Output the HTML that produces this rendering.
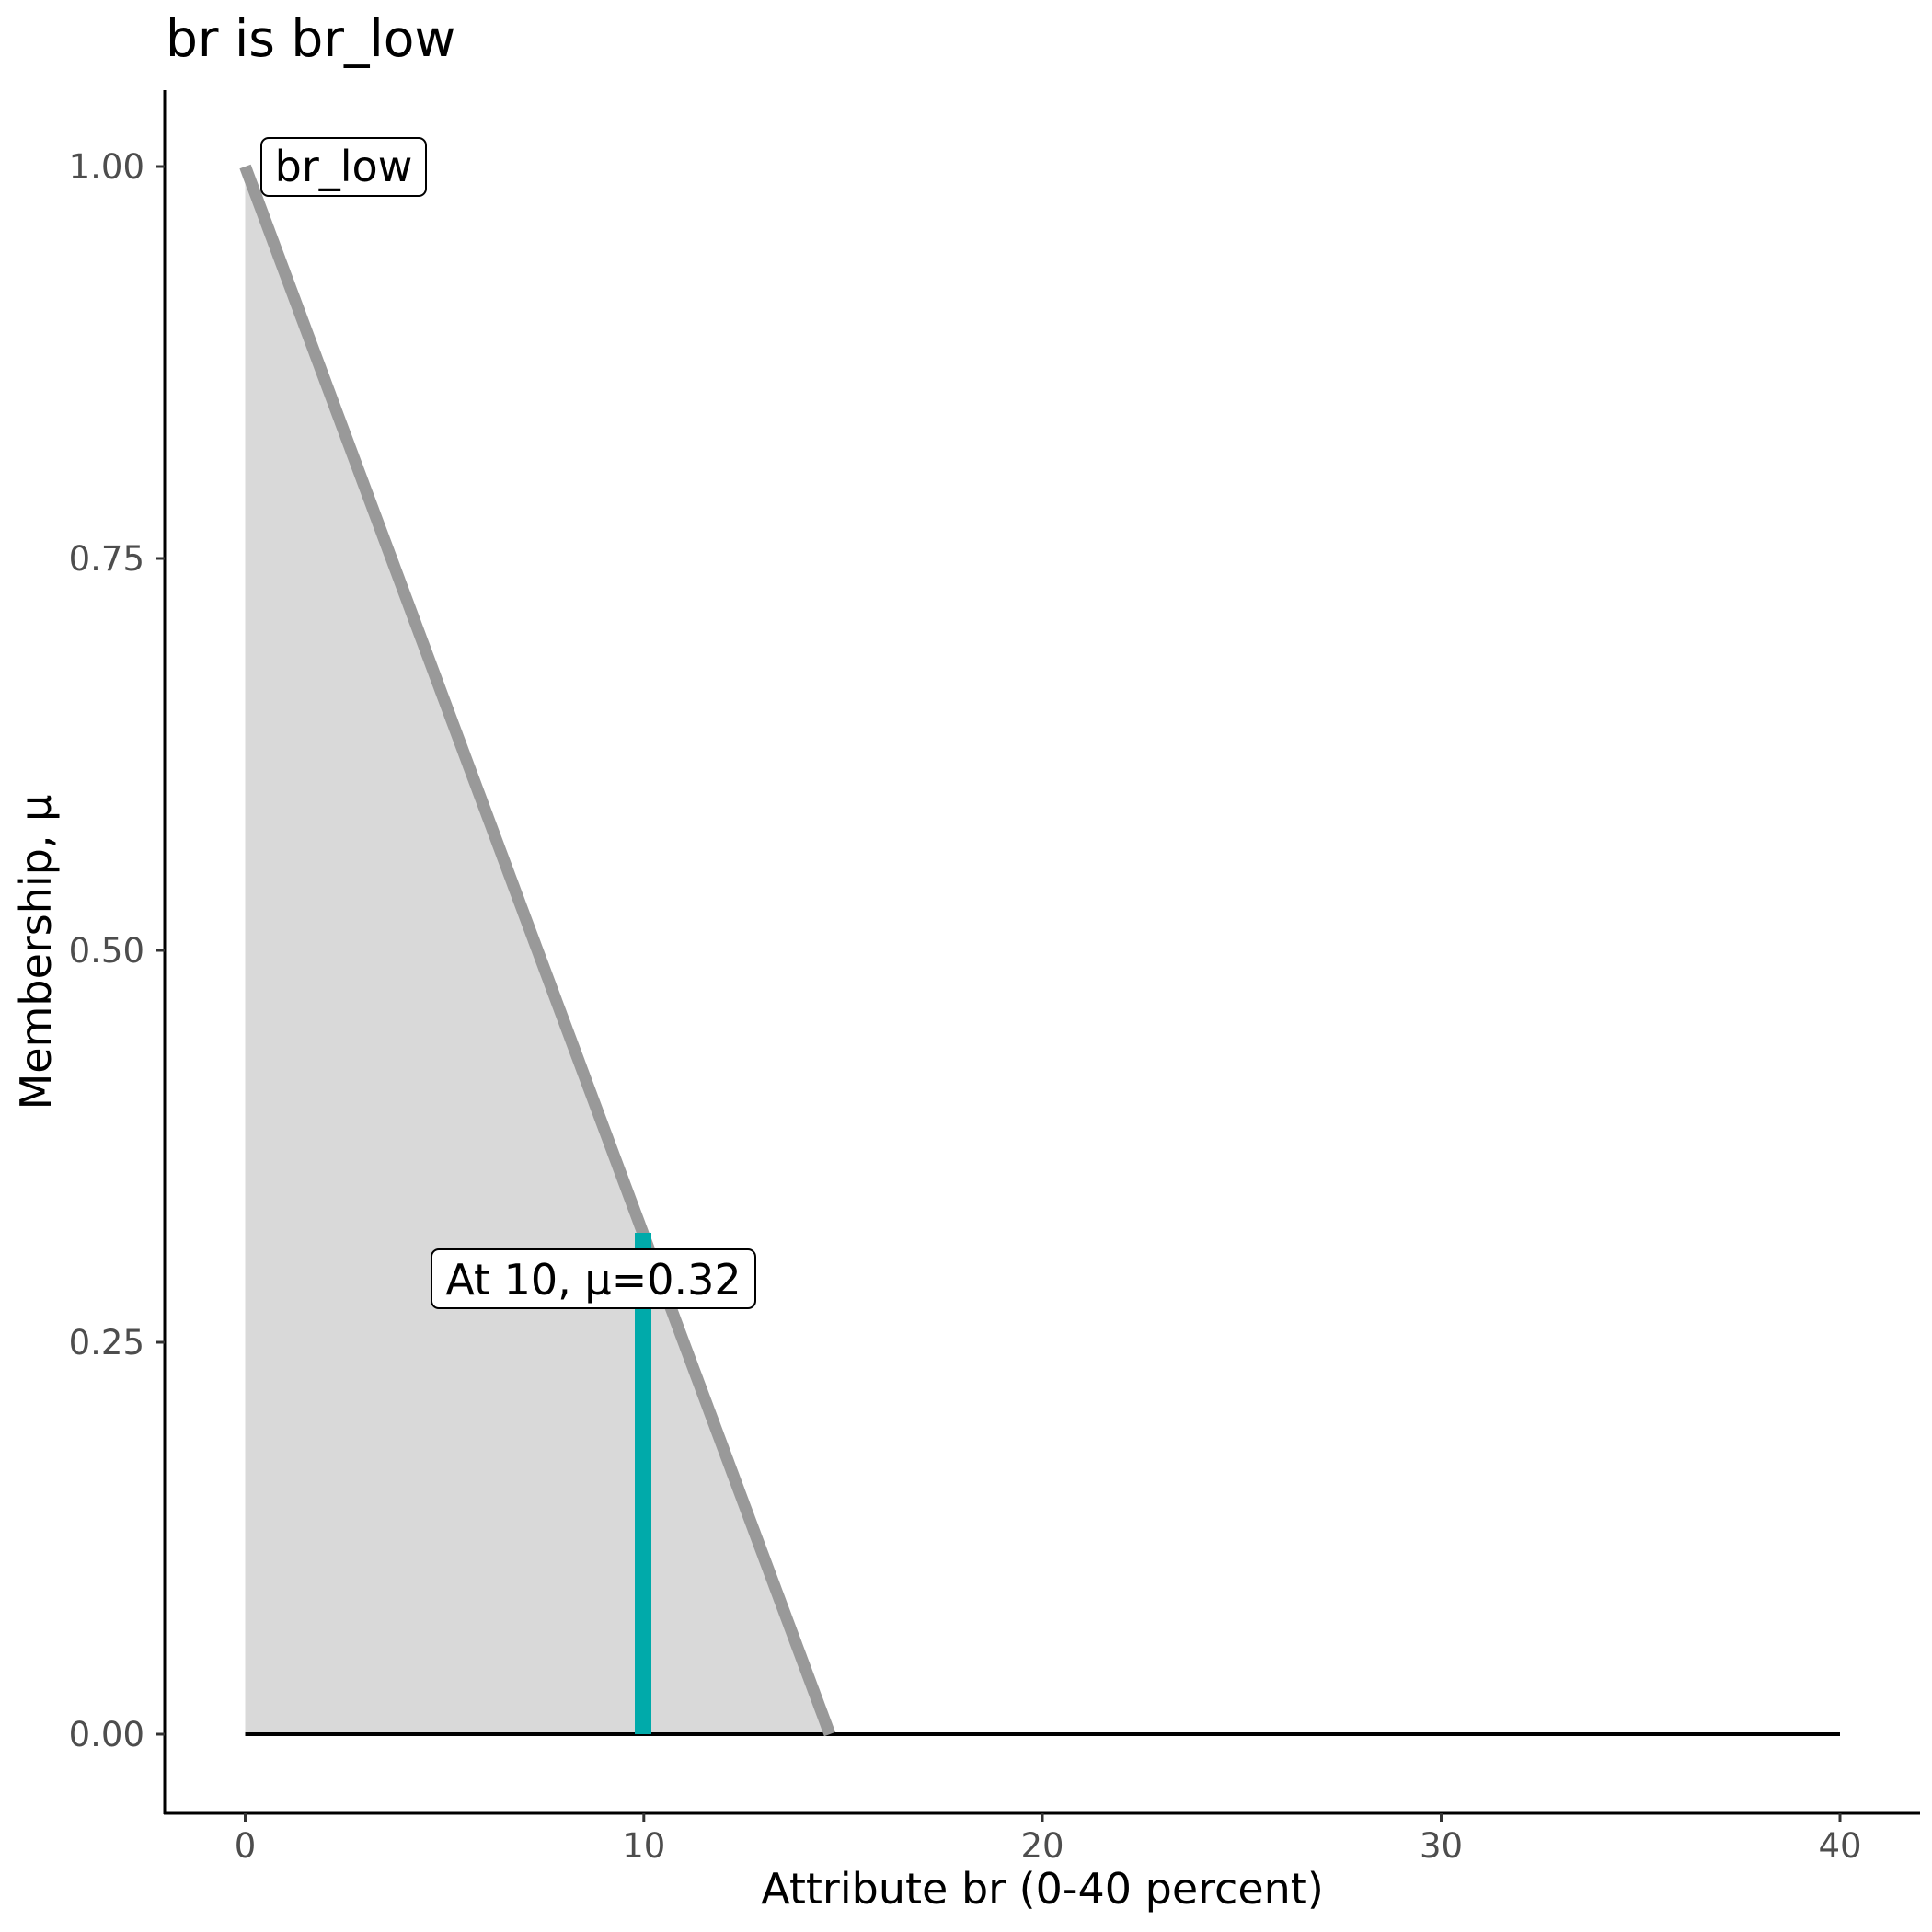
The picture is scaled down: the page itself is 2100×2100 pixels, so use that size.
<!DOCTYPE html>
<html><head><style>body{margin:0;background:#fff}svg{display:block}</style></head>
<body>
<svg width="2100" height="2100" viewBox="0 0 2100 2100" xmlns="http://www.w3.org/2000/svg" font-family="DejaVu Sans, Liberation Sans, sans-serif">
<rect width="2100" height="2100" fill="#fff"/>
<text x="180" y="61" font-size="55" fill="#000">br is br_low</text>
<polygon points="266.5,181 902,1885 266.5,1885" fill="#d9d9d9"/>
<line x1="266.5" y1="1885" x2="2000" y2="1885" stroke="#000" stroke-width="4"/>
<line x1="266.5" y1="181" x2="902" y2="1885" stroke="#999" stroke-width="13"/>
<line x1="699" y1="1340" x2="699" y2="1885" stroke="#00AAAA" stroke-width="18"/>
<rect x="284" y="150" width="179" height="63" rx="8" fill="#fff" stroke="#000" stroke-width="2"/>
<text x="373.5" y="197" font-size="46" text-anchor="middle" fill="#000">br_low</text>
<rect x="469" y="1358" width="352" height="64" rx="8" fill="#fff" stroke="#000" stroke-width="2"/>
<text x="645" y="1407" font-size="46" text-anchor="middle" fill="#000">At 10, μ=0.32</text>
<line x1="179" y1="98" x2="179" y2="1972" stroke="#000" stroke-width="3"/>
<line x1="178" y1="1971" x2="2087" y2="1971" stroke="#000" stroke-width="3"/>
<g stroke="#333" stroke-width="3">
<line x1="170" y1="181" x2="179" y2="181"/><line x1="170" y1="607" x2="179" y2="607"/>
<line x1="170" y1="1033" x2="179" y2="1033"/><line x1="170" y1="1459" x2="179" y2="1459"/>
<line x1="170" y1="1885" x2="179" y2="1885"/>
<line x1="266.5" y1="1971" x2="266.5" y2="1980"/><line x1="699.8" y1="1971" x2="699.8" y2="1980"/>
<line x1="1133" y1="1971" x2="1133" y2="1980"/><line x1="1566.5" y1="1971" x2="1566.5" y2="1980"/>
<line x1="2000" y1="1971" x2="2000" y2="1980"/>
</g>
<g font-size="37" fill="#4d4d4d" text-anchor="end">
<text x="157" y="194">1.00</text><text x="157" y="620">0.75</text>
<text x="157" y="1046">0.50</text><text x="157" y="1472">0.25</text><text x="157" y="1898">0.00</text>
</g>
<g font-size="37" fill="#4d4d4d" text-anchor="middle">
<text x="266.5" y="2019">0</text><text x="699.8" y="2019">10</text><text x="1133" y="2019">20</text>
<text x="1566.5" y="2019">30</text><text x="2000" y="2019">40</text>
</g>
<text x="1133" y="2069" font-size="46" text-anchor="middle" fill="#000">Attribute br (0-40 percent)</text>
<text transform="translate(55,1035) rotate(-90)" font-size="46" text-anchor="middle" fill="#000">Membership, μ</text>
</svg>
</body></html>
